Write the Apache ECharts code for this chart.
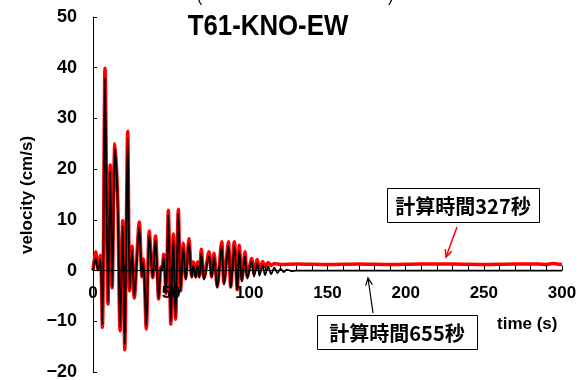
<!DOCTYPE html>
<html><head><meta charset="utf-8">
<script src="https://cdn.jsdelivr.net/npm/echarts@6/dist/echarts.min.js"></script>
<style>html,body{margin:0;padding:0;background:#fff}#c{width:581px;height:380px}</style>
</head><body><div id="c"></div>
<script>
// Calculation time 327 s (red)
const redTime = [0,1.7,3.2,4.7,6.0,7.7,9.6,11.0,12.3,14.0,15.8,17.3,19.0,20.3,22.2,23.5,25.0,26.4,29.6,31.3,32.2,34.1,36.0,38.2,40.0,42.0,43.5,44.2,45.2,46.7,48.2,49.8,51.4,52.8,54.6,56.0,57.8,59.3,61.4,63.1,64.2,65.7,66.8,68.0,69.3,71.0,74.2,75.9,77.4,79.5,82.3,83.8,86.6,88.1,90.4,92.3,93.6,95.2,97.2,98.7,101.5,103.0,105.1,106.5,108.5,110,112,114,116,120,130,150,170,190,210,230,250,270,285,290,294,297,300];
const redVel  = [0,3.7,0.3,3.0,-11.2,39.9,-6.6,20.8,-3.4,25.0,14.0,-11.9,9.8,-15.6,27.4,-4.0,4.8,-5.4,9.6,-1.2,2.3,-11.5,7.8,-1.4,6.8,-5.6,0.8,0.2,3.2,-4.6,11.9,-10.6,7.2,-9.6,12.1,-4.0,5.4,-1.6,6.3,-1.2,1.7,-1.2,1.7,-1.2,4.2,-1.5,3.7,-1.2,3.4,-3.2,5.7,-2.5,5.7,-3.2,5.7,-3.8,5.0,-1.9,3.7,-1.2,2.4,-0.6,2.2,0.0,1.8,0.8,1.6,1.0,1.4,1.2,1.3,1.2,1.3,1.2,1.3,1.3,1.2,1.3,1.3,1.2,1.4,1.3,1.2];
// Calculation time 655 s (black)
const blackTime = [0,1.7,3.2,4.7,6.0,7.7,9.6,11.0,12.3,14.0,15.8,17.3,19.0,20.3,22.2,23.5,25.0,26.4,29.6,31.3,32.2,34.1,36.0,38.2,40.0,42.0,43.5,44.2,45.2,46.7,48.2,49.8,51.4,52.8,54.6,56.0,57.8,59.3,61.4,63.1,64.2,65.7,66.8,68.0,69.3,71.0,74.2,75.9,77.4,79.5,82.3,83.8,86.6,88.1,90.4,92.3,93.6,95.2,97.2,98.7,101.5,103.0,105.1,106.5,108.5,110,112,114,116,118,120,122,124,127,130,300];
const blackVel  = [0,2.4,0.0,2.2,-10.6,38.0,-6.2,19.6,-3.2,24.0,13.2,-11.2,8.8,-14.6,26.2,-3.6,4.0,-5.0,8.6,-1.2,1.8,-10.8,7.0,-1.4,6.0,-5.4,0.6,0.0,2.6,-4.4,11.0,-10.0,6.4,-9.2,11.2,-4.0,4.6,-1.8,5.4,-1.4,1.0,-1.4,1.0,-1.4,3.4,-1.8,2.8,-1.4,2.6,-3.4,4.8,-2.8,4.8,-3.4,4.8,-3.8,4.0,-2.2,2.8,-1.6,1.8,-1.2,1.4,-1.0,1.0,-0.9,0.8,-0.7,0.6,-0.5,0.4,-0.3,0.2,-0.1,0.0,0.0];
const xTicks = {min:0, max:300, step:50};
const yTicks = {min:-20, max:50, step:10};
const titleText = 'T61-KNO-EW';
const note327 = '計算時間327秒';
const note655 = '計算時間655秒';

const zip = (a,b) => a.map((t,i)=>[t,b[i]]);
const chart = echarts.init(document.getElementById('c'), null, {renderer:'canvas'});
const NUM = '"Liberation Sans", Arial, sans-serif';
const CJK = '"Noto Sans CJK JP", sans-serif';
chart.setOption({
  animation:false,
  backgroundColor:'#fff',
  grid:{left:93, right:19, top:17, bottom:8, outerBoundsMode:'none', containLabel:false},
  xAxis:{type:'value', min:xTicks.min, max:xTicks.max, interval:xTicks.step, z:10,
    axisLine:{onZero:true, lineStyle:{color:'#000', width:1}},
    axisTick:{inside:true, length:5, lineStyle:{color:'#000'}},
    minorTick:{show:true, splitNumber:5, length:5, lineStyle:{color:'#000'}},
    axisLabel:{fontSize:17, fontWeight:'bold', color:'#000', margin:-87.5, fontFamily:NUM},
    splitLine:{show:false}},
  yAxis:{type:'value', min:yTicks.min, max:yTicks.max, interval:yTicks.step,
    axisLine:{show:true, lineStyle:{color:'#000', width:1}},
    axisTick:{show:true, inside:true, length:4, lineStyle:{color:'#000'}},
    axisLabel:{fontSize:18, fontWeight:'bold', color:'#000', margin:16, fontFamily:NUM,
      formatter:v=>String(v).replace('-','\u2212')},
    splitLine:{show:false}},
  series:[
    {type:'line', data:zip(redTime, redVel), showSymbol:false, smooth:0.3,
      lineStyle:{color:'#ff0000', width:3.5}, z:2},
    {type:'line', data:zip(blackTime, blackVel), showSymbol:false, smooth:0.3,
      lineStyle:{color:'#000', width:1.8}, z:3}
  ],
  graphic:[
    {type:'text', x:268, y:27, scaleX:0.86, style:{text:titleText, font:'bold 30px '+NUM, fill:'#000', textAlign:'center', textVerticalAlign:'middle'}},
    {type:'text', x:197, y:-10, style:{text:'(', font:'16px '+NUM, fill:'#000'}},
    {type:'text', x:388, y:-10, style:{text:')', font:'16px '+NUM, fill:'#000'}},
    {type:'text', x:27, y:195, rotation:Math.PI/2, style:{text:'velocity (cm/s)', font:'bold 17px '+NUM, fill:'#000', textAlign:'center', textVerticalAlign:'middle'}},
    {type:'text', x:497, y:324, style:{text:'time (s)', font:'bold 17px '+NUM, fill:'#000', textAlign:'left', textVerticalAlign:'middle'}},
    {type:'rect', shape:{x:387.5, y:188.5, width:152, height:34}, style:{fill:'#fff', stroke:'#000', lineWidth:1}, z:10},
    {type:'text', x:463, y:206, style:{text:note327, font:'bold 20px '+CJK, fill:'#000', textAlign:'center', textVerticalAlign:'middle'}, z:11},
    {type:'rect', shape:{x:317.5, y:315.5, width:160, height:34}, style:{fill:'#fff', stroke:'#000', lineWidth:1}, z:10},
    {type:'text', x:397, y:333, style:{text:note655, font:'bold 20px '+CJK, fill:'#000', textAlign:'center', textVerticalAlign:'middle'}, z:11},
    {type:'line', shape:{x1:457, y1:227, x2:446, y2:257}, style:{stroke:'#ff0000', lineWidth:1.5}, z:10},
    {type:'polyline', shape:{points:[[451.7,251.4],[446,257],[445.3,249]]}, style:{stroke:'#ff0000', lineWidth:1.5, fill:null}, z:10},
    {type:'line', shape:{x1:373, y1:313, x2:368, y2:278}, style:{stroke:'#000', lineWidth:1.2}, z:10},
    {type:'polyline', shape:{points:[[365.7,285.7],[368,278],[372.4,284.7]]}, style:{stroke:'#000', lineWidth:1.2, fill:null}, z:10}
  ]
});
</script></body></html>
